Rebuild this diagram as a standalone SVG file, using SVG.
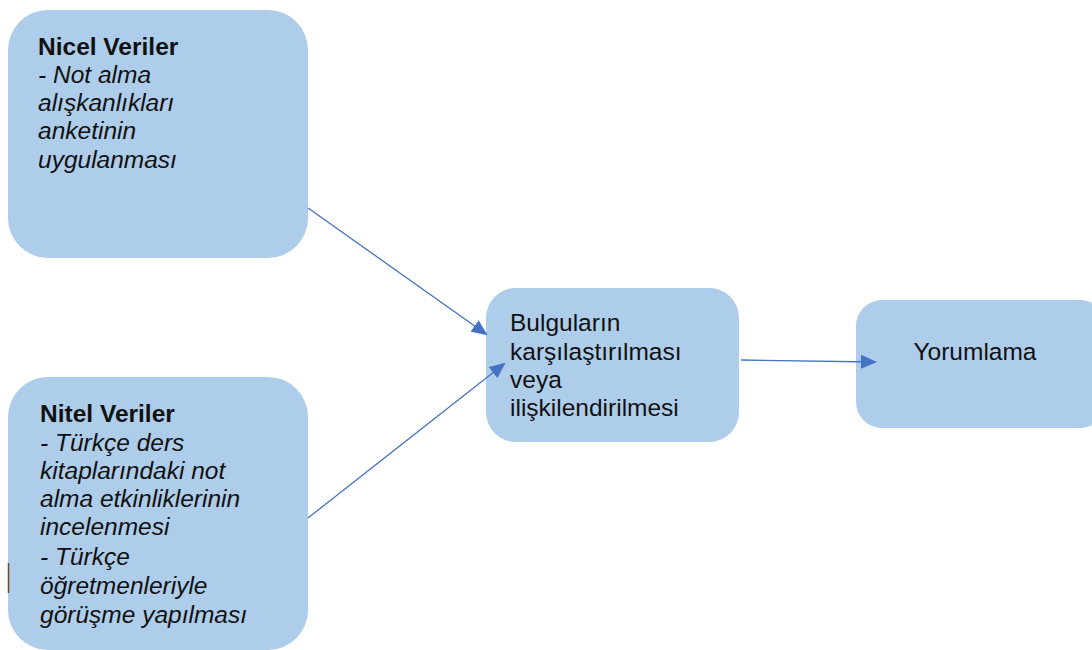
<svg xmlns="http://www.w3.org/2000/svg" width="1092" height="650" viewBox="0 0 1092 650">
<style>
.box{fill:#aecdea;}
.t{font-family:"Liberation Sans",Arial,sans-serif;font-size:24.5px;fill:#111;}
.b{font-weight:bold;}
.i{font-style:italic;}
.c{stroke:#4472c4;stroke-width:1.3;fill:none;}
</style>
<defs>
<marker id="ah" markerWidth="16" markerHeight="14" refX="14" refY="7" orient="auto" markerUnits="userSpaceOnUse">
<path d="M0,0 L16,7 L0,14 Z" fill="#4472c4"/>
</marker>
</defs>
<rect width="1092" height="650" fill="#fff"/>
<g id="nicel">
<rect class="box" x="8" y="10" width="300" height="248" rx="40"/>
<text class="t" x="38" y="55"><tspan class="b">Nicel Veriler</tspan><tspan class="i" x="38" dy="28">- Not alma</tspan><tspan class="i" x="38" dy="28">alışkanlıkları</tspan><tspan class="i" x="38" dy="28">anketinin</tspan><tspan class="i" x="38" dy="29">uygulanması</tspan></text>
</g>
<g id="nitel">
<rect class="box" x="8" y="377" width="300" height="273" rx="40"/>
<line x1="8.5" y1="563" x2="8.5" y2="593" stroke="#6b4a2b" stroke-width="1.5"/>
<text class="t" x="40" y="422"><tspan class="b">Nitel Veriler</tspan><tspan class="i" x="40" dy="29">- Türkçe ders</tspan><tspan class="i" x="40" dy="28">kitaplarındaki not</tspan><tspan class="i" x="40" dy="28">alma etkinliklerinin</tspan><tspan class="i" x="40" dy="28">incelenmesi</tspan><tspan class="i" x="40" dy="30">- Türkçe</tspan><tspan class="i" x="40" dy="29">öğretmenleriyle</tspan><tspan class="i" x="40" dy="29">görüşme yapılması</tspan></text>
</g>
<g id="bulgu">
<rect class="box" x="486" y="288" width="253" height="154" rx="30"/>
<text class="t" x="510" y="331"><tspan>Bulguların</tspan><tspan x="510" dy="29">karşılaştırılması</tspan><tspan x="510" dy="28">veya</tspan><tspan x="510" dy="28">ilişkilendirilmesi</tspan></text>
</g>
<g id="yorum">
<rect class="box" x="856" y="300" width="250" height="128" rx="26"/>
<text class="t" x="975" y="360" text-anchor="middle">Yorumlama</text>
</g>
<g id="connectors">
<line class="c" x1="308" y1="208" x2="486" y2="334" marker-end="url(#ah)"/>
<line class="c" x1="308" y1="518" x2="504" y2="364" marker-end="url(#ah)"/>
<line class="c" x1="741" y1="360" x2="875" y2="362" marker-end="url(#ah)"/>
</g>
</svg>
